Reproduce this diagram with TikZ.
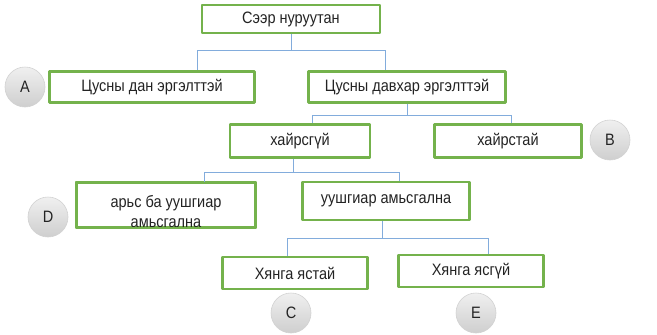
\documentclass[tikz,border=0pt]{standalone}
\usepackage{fontspec}
\setmainfont{Liberation Sans}[FakeStretch=0.88]
\definecolor{boxgreen}{RGB}{116,178,76}
\definecolor{linkblue}{RGB}{130,172,220}
\definecolor{textgray}{RGB}{35,35,35}
\begin{document}
\begin{tikzpicture}[x=1pt, y=-1pt, font=\fontsize{16.5}{20}\selectfont, line join=round,
  box/.style={draw=boxgreen, line width=2.2pt, fill=white, text=textgray, minimum height=31pt, inner sep=2pt},
  link/.style={draw=linkblue, line width=0.9pt},
  ball/.style={circle, draw=gray!35, line width=0.6pt, top color=gray!12, bottom color=gray!38, text=textgray, minimum size=40pt, inner sep=0pt}]
\useasboundingbox (0,0) rectangle (657,335);
% boxes
\node[box, minimum width=178pt, minimum height=28pt] (root) at (291,19) {Сээр нуруутан};
\node[box, minimum width=205pt] (single) at (152,87) {Цусны дан эргэлттэй};
\node[box, minimum width=197pt] (double) at (407,87) {Цусны давхар эргэлттэй};
\node[box, minimum width=140pt, minimum height=33pt] (noscale) at (300,141) {хайрсгүй};
\node[box, minimum width=147pt, minimum height=33pt] (scale) at (508,141) {хайрстай};
\node[box, minimum width=178pt, minimum height=44pt] (skin) at (166,205) {};
\node[text=textgray, align=center] (skintext) at (166,212) {арьс ба уушгиар\\амьсгална};
\draw[boxgreen, line width=2.2pt] (skin.south west) rectangle (skin.north east);
\node[box, minimum width=167pt, minimum height=38pt] (lung) at (386,201) {уушгиар амьсгална};
\node[box, minimum width=145pt, minimum height=32pt] (jaw) at (295,273) {Хянга ястай};
\node[box, minimum width=145pt, minimum height=32pt] (nojaw) at (471,271) {Хянга ясгүй};
% letters
\node[ball] (A) at (25,87) {A};
\node[ball] (B) at (610,140) {B};
\node[ball] (D) at (48,217) {D};
\node[ball] (C) at (291,313) {C};
\node[ball] (E) at (476,313) {E};
% connectors
\coordinate (b1l) at (197,50);
\coordinate (b1r) at (385,50);
\draw[link] (root.south) -- (root.south |- b1l);
\draw[link] (b1l) -- (b1r);
\draw[link] (b1l) -- (b1l |- single.north);
\draw[link] (b1r) -- (b1r |- double.north);
\coordinate (b2l) at (312,115);
\coordinate (b2r) at (511,115);
\draw[link] (double.south) -- (double.south |- b2l);
\draw[link] (b2l) -- (b2r);
\draw[link] (b2l) -- (b2l |- noscale.north);
\draw[link] (b2r) -- (b2r |- scale.north);
\coordinate (b3l) at (204,172);
\coordinate (b3r) at (399,172);
\draw[link] (noscale.south -| 293,0) -- (293,172);
\draw[link] (b3l) -- (b3r);
\draw[link] (b3l) -- (b3l |- skin.north);
\draw[link] (b3r) -- (b3r |- lung.north);
\coordinate (b4l) at (287,238);
\coordinate (b4r) at (488,238);
\draw[link] (lung.south -| 382,0) -- (382,238);
\draw[link] (b4l) -- (b4r);
\draw[link] (b4l) -- (b4l |- jaw.north);
\draw[link] (b4r) -- (b4r |- nojaw.north);
\end{tikzpicture}
\end{document}
